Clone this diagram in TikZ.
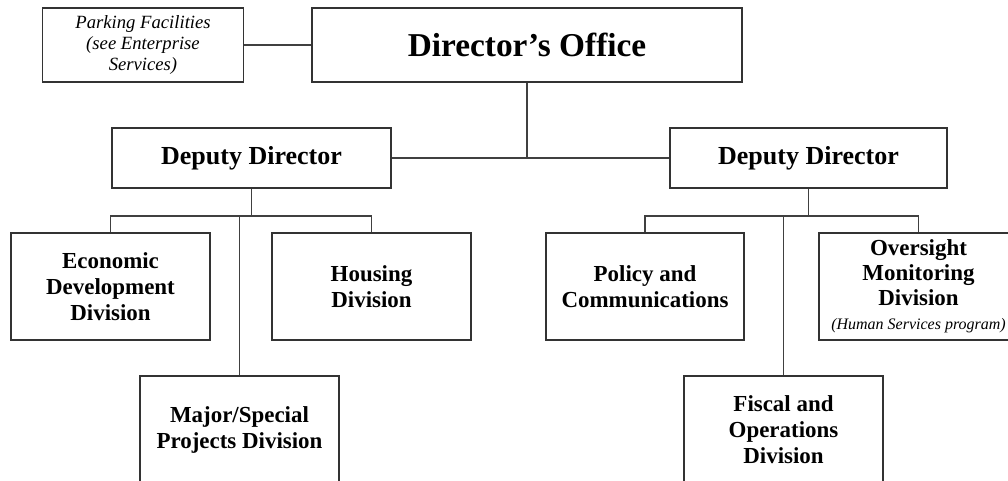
\documentclass[tikz,border=0pt]{standalone}
\usepackage{fontspec}
\setmainfont{Liberation Serif}
\begin{document}
\begin{tikzpicture}[x=0.75pt,y=-0.75pt,
  box/.style={draw=black!80,line width=0.8pt,rectangle,inner sep=0pt,align=center},
  conn/.style={draw=black!75,line width=0.8pt},
  divfont/.style={font=\fontsize{17.2}{19.5}\selectfont\bfseries},
  depfont/.style={font=\fontsize{19.5}{22}\selectfont\bfseries},
]
\useasboundingbox (0,0) rectangle (1008,480);
\clip (0,0) rectangle (1008,480);
\node[box,minimum width=201*0.75pt,minimum height=74*0.75pt,font=\fontsize{14}{15.5}\selectfont\itshape] (park) at (143,45) {Parking Facilities\\(see Enterprise\\Services)};
\node[box,minimum width=430*0.75pt,minimum height=74*0.75pt,font=\fontsize{25}{28}\selectfont\bfseries] (dir) at (527,45) {Director’s Office};
\node[box,depfont,minimum width=279*0.75pt,minimum height=60*0.75pt] (depL) at (251.5,158) {Deputy Director};
\node[box,depfont,minimum width=277*0.75pt,minimum height=60*0.75pt] (depR) at (808.5,158) {Deputy Director};
\node[box,divfont,minimum width=199*0.75pt,minimum height=107*0.75pt] (econ) at (110.5,286.5) {Economic\\Development\\Division};
\node[box,divfont,minimum width=199*0.75pt,minimum height=107*0.75pt] (hous) at (371.5,286.5) {Housing\\Division};
\node[box,divfont,minimum width=199*0.75pt,minimum height=108*0.75pt] (major) at (239.5,430) {Major/Special\\Projects Division};
\node[box,divfont,minimum width=198*0.75pt,minimum height=107*0.75pt] (policy) at (645,286.5) {Policy and\\Communications};
\node[box,font=\fontsize{17.2}{18.75}\selectfont\bfseries,minimum width=199*0.75pt,minimum height=107*0.75pt] (over) at (918.5,286.5) {Oversight\\Monitoring\\Division\\[-1pt]{\fontsize{12}{14}\selectfont\mdseries\itshape (Human Services program)}};
\node[box,divfont,minimum width=199*0.75pt,minimum height=108*0.75pt] (fisc) at (783.5,430) {Fiscal and\\Operations\\Division};
\coordinate (jl) at (251.5,216);
\coordinate (jr) at (808.5,216);
\draw[conn] (park.east) -- (dir.west);
\draw[conn] (dir.south) -- (dir.south |- depL.east);
\draw[conn] (depL.east) -- (depR.west);
\draw[conn] (depL.south) -- (jl);
\draw[conn] (econ.north) -- (econ.north |- jl) -- (hous.north |- jl) -- (hous.north);
\draw[conn] (major.north) -- (major.north |- jl);
\draw[conn] (depR.south) -- (jr);
\draw[conn] (policy.north) -- (policy.north |- jr) -- (over.north |- jr) -- (over.north);
\draw[conn] (fisc.north) -- (fisc.north |- jr);
\end{tikzpicture}
\end{document}
